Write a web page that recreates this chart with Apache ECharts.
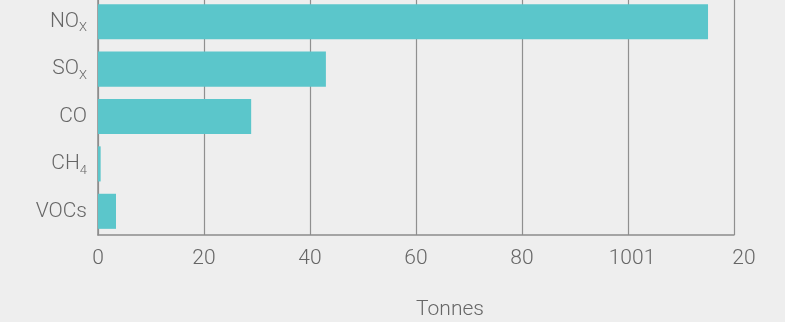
<!DOCTYPE html>
<html>
<head>
<meta charset="utf-8">
<script src="https://cdn.jsdelivr.net/npm/echarts@6/dist/echarts.min.js"></script>
<style>
  html, body { margin: 0; padding: 0; background: #eeeeee; }
  #chart { width: 785px; height: 322px; }
</style>
</head>
<body>
<div id="chart"></div>
<script>
// Emissions by pollutant, in tonnes
const pollutants = ['NO{sub|X}', 'SO{sub|X}', 'CO', 'CH{sub|4}', 'VOCs'];
const tonnes = [115.1, 43.0, 28.9, 0.5, 3.4];
const tickValues = [0, 20, 40, 60, 80, 100, 120];
const tickLabels = ['0', '20', '40', '60', '80', '1001', '20'];
const tickShift = [0, 0, 0, 0, 0, 8, 20];

const FONT = 'Roboto, "Liberation Sans", sans-serif';
const chart = echarts.init(document.getElementById('chart'));

chart.setOption({
  backgroundColor: '#eeeeee',
  animation: false,
  grid: { left: 98, right: 51, top: -2, bottom: 87, containLabel: false, outerBoundsMode: 'none' },
  xAxis: {
    type: 'value',
    min: 0,
    max: 120,
    interval: 20,
    name: 'Tonnes',
    nameLocation: 'middle',
    nameGap: 64,
    nameTextStyle: { fontFamily: FONT, fontWeight: 300, fontSize: 21, color: '#666', padding: [0, 0, 0, 68] },
    axisLine: { show: true, lineStyle: { color: '#8c8c8c', width: 1.5 } },
    axisTick: { show: false },
    splitLine: { show: true, lineStyle: { color: '#8f8f8f', width: 1.2 } },
    axisLabel: {
      margin: 13,
      formatter: function (v) {
        const i = tickValues.indexOf(v);
        return '{t' + i + '|' + tickLabels[i] + '}';
      },
      rich: Object.fromEntries(tickValues.map((v, i) => ['t' + i, {
        fontFamily: FONT, fontWeight: 300, fontSize: 21, color: '#666',
        padding: [0, 0, 0, tickShift[i]]
      }]))
    }
  },
  yAxis: {
    type: 'category',
    inverse: true,
    data: pollutants,
    axisLine: { show: true, lineStyle: { color: '#8c8c8c', width: 1.5 } },
    axisTick: { show: false },
    axisLabel: {
      margin: 11,
      fontFamily: FONT, fontWeight: 300, fontSize: 21, color: '#666',
      rich: {
        sub: { fontFamily: FONT, fontWeight: 300, fontSize: 13, color: '#666', verticalAlign: 'bottom', padding: [13, 0, 0, 0] }
      }
    }
  },
  series: [{
    type: 'bar',
    data: tonnes,
    barCategoryGap: '26%',
    itemStyle: { color: '#5bc6cb' }
  }]
});
</script>
</body>
</html>
